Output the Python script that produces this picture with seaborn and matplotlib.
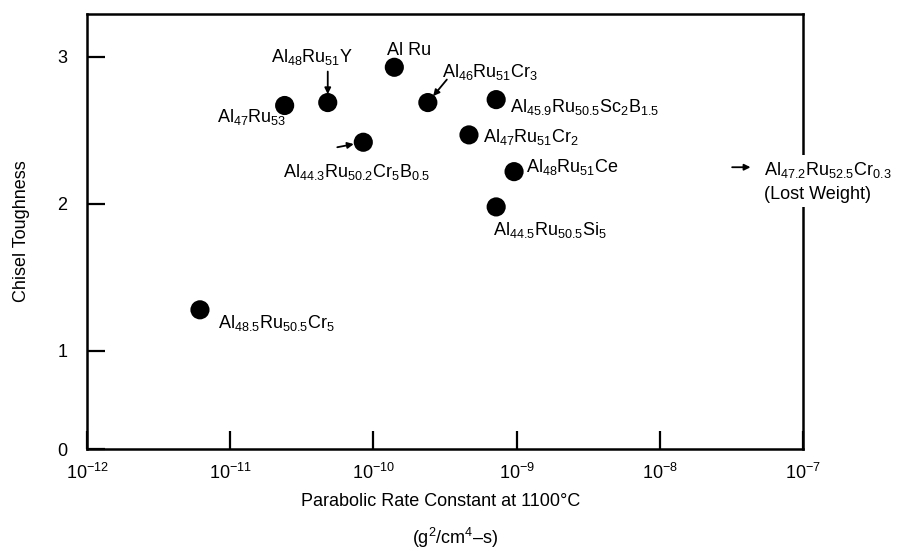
import matplotlib
matplotlib.use("Agg")
import matplotlib.pyplot as plt
import seaborn as sns
import pandas as pd

# ---- data ----
alloys = [
    r"Al$_{48.5}$Ru$_{50.5}$Cr$_{5}$",
    r"Al$_{47}$Ru$_{53}$",
    r"Al$_{48}$Ru$_{51}$Y",
    r"Al$_{44.3}$Ru$_{50.2}$Cr$_{5}$B$_{0.5}$",
    r"Al Ru",
    r"Al$_{46}$Ru$_{51}$Cr$_{3}$",
    r"Al$_{47}$Ru$_{51}$Cr$_{2}$",
    r"Al$_{45.9}$Ru$_{50.5}$Sc$_{2}$B$_{1.5}$",
    r"Al$_{44.5}$Ru$_{50.5}$Si$_{5}$",
    r"Al$_{48}$Ru$_{51}$Ce",
]
rate_constant = [6.15e-12, 2.4e-11, 4.8e-11, 8.5e-11, 1.4e-10,
                 2.4e-10, 4.65e-10, 7.2e-10, 7.2e-10, 9.6e-10]
toughness = [1.28, 2.67, 2.69, 2.42, 2.93, 2.69, 2.47, 2.71, 1.98, 2.22]

lost_label = "Al$_{47.2}$Ru$_{52.5}$Cr$_{0.3}$\n(Lost Weight)"
lost_toughness = 2.25

x_ticks = [1e-12, 1e-11, 1e-10, 1e-9, 1e-8, 1e-7]
x_ticklabels = [r"$10^{-12}$", r"$10^{-11}$", r"$10^{-10}$",
                r"$10^{-9}$", r"$10^{-8}$", r"$10^{-7}$"]
y_bottom = 0.333
y_ticks = [y_bottom, 1, 2, 3]
y_ticklabels = ["0", "1", "2", "3"]

# label layout (offset pixels from each point, alignment)
label_offsets = [(18, -13, "left"), (2, -12, "right"), (-16, 46, "center"),
                 (-7, -30, "center"), (-7, 17, "left"), (14, 31, "left"),
                 (14, -2, "left"), (14, -7, "left"), (-3, -23, "left"),
                 (12, 5, "left")]
# arrows: index -> (start offset px, shrink toward point in pt)
arrow_specs = {2: ((0, 31), 6.0), 3: ((-26, -5), 7.0), 5: ((19, 23), 6.0)}

df = pd.DataFrame({"alloy": alloys, "rate": rate_constant, "tough": toughness})

sns.set_style("white")
plt.rcParams["font.family"] = ["Liberation Sans", "DejaVu Sans"]
plt.rcParams["mathtext.default"] = "regular"
plt.rcParams["mathtext.fontset"] = "custom"
plt.rcParams["mathtext.rm"] = "Liberation Sans"
plt.rcParams["text.color"] = "black"
plt.rcParams["axes.labelcolor"] = "black"

FS = 13

fig = plt.figure(figsize=(9.06, 5.51), dpi=100)
ax = fig.add_axes([87 / 906, 102 / 551, 716 / 906, 435 / 551])

sns.scatterplot(data=df, x="rate", y="tough", ax=ax, color="black",
                s=190, edgecolor="none", legend=False, zorder=4)

ax.set_xscale("log")
ax.set_xlim(1e-12, 1e-7)
ax.set_ylim(y_bottom, 3.2925)
ax.set_xticks(x_ticks)
ax.set_xticklabels(x_ticklabels)
ax.minorticks_off()
ax.set_yticks(y_ticks)
ax.set_yticklabels(y_ticklabels)

ax.tick_params(axis="both", which="major", direction="in", length=13,
               width=1.6, labelsize=FS, colors="black",
               bottom=True, left=True, top=False, right=False)
ax.tick_params(axis="x", pad=10)
ax.tick_params(axis="y", pad=14)
for sp in ax.spines.values():
    sp.set_linewidth(1.8)
    sp.set_color("black")

for i, (name, xv, yv) in enumerate(zip(alloys, rate_constant, toughness)):
    dx, dy, ha = label_offsets[i]
    ax.annotate(name, xy=(xv, yv), xytext=(dx, dy), textcoords="offset pixels",
                ha=ha, va="center", fontsize=FS, color="black", zorder=5)
    if i in arrow_specs:
        (sx, sy), shr = arrow_specs[i]
        ax.annotate("", xy=(xv, yv), xytext=(sx, sy), textcoords="offset pixels",
                    arrowprops=dict(arrowstyle="-|>", color="black", lw=1.3,
                                    mutation_scale=9, shrinkA=0, shrinkB=shr))

# off-scale alloy (lost weight)
ax.annotate("", xy=(4.3e-8, lost_toughness), xytext=(3.2e-8, lost_toughness),
            arrowprops=dict(arrowstyle="-|>", color="black", lw=1.3,
                            mutation_scale=9, shrinkA=0, shrinkB=0))
ax.text(5.3e-8, lost_toughness - 0.095, lost_label, ha="left", va="center",
        fontsize=FS, linespacing=1.45, clip_on=False, zorder=6, color="black",
        bbox=dict(facecolor="white", edgecolor="none", pad=3))

ax.set_ylabel("Chisel Toughness", fontsize=FS, va="center", color="black")
ax.yaxis.set_label_coords((22 - 87) / 716, 0.5)
ax.set_xlabel("Parabolic Rate Constant at 1100°C", fontsize=FS, va="center",
              color="black")
ax.xaxis.set_label_coords((441 - 87) / 716, (449 - 502) / 435)
ax.text((455 - 87) / 716, (449 - 538) / 435, r"(g$^{2}$/cm$^{4}$–s)",
        transform=ax.transAxes, ha="center", va="center", fontsize=FS,
        color="black")

fig.savefig("out.png", dpi=100)
